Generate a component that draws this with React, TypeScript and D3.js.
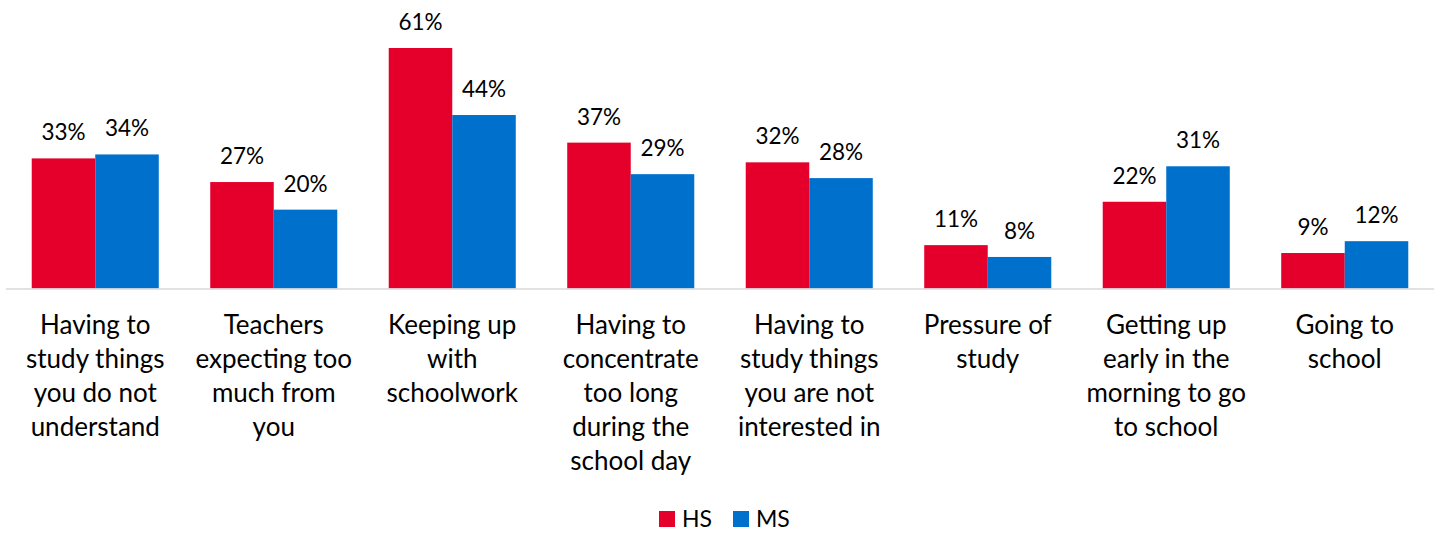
import React from "react";
import * as d3 from "d3";

const categories: string[][] = [
  ["Having to", "study things", "you do not", "understand"],
  ["Teachers", "expecting too", "much from", "you"],
  ["Keeping up", "with", "schoolwork"],
  ["Having to", "concentrate", "too long", "during the", "school day"],
  ["Having to", "study things", "you are not", "interested in"],
  ["Pressure of", "study"],
  ["Getting up", "early in the", "morning to go", "to school"],
  ["Going to", "school"],
];
const hsValues = [33, 27, 61, 37, 32, 11, 22, 9];
const msValues = [34, 20, 44, 29, 28, 8, 31, 12];
const seriesNames = ["HS", "MS"];
const seriesColors = ["#E4002B", "#0070CD"];

const W = 1440;
const H = 533;
const FONT = "Lato, 'Open Sans', sans-serif";

export default function App() {
  const keys = categories.map((c) => c.join(" "));
  const x0 = d3.scaleBand<string>().domain(keys).range([6, 1434]).paddingInner(0).paddingOuter(0);
  const x1 = d3
    .scaleBand<string>()
    .domain(seriesNames)
    .range([0, x0.bandwidth()])
    .paddingInner(0)
    .paddingOuter(0.405);
  const y = d3.scaleLinear().domain([0, 61]).range([288.5, 48]);
  const data = [hsValues, msValues];

  return (
    <svg width={W} height={H} style={{ display: "block", position: "absolute", left: 0, top: 0 }}>
      <rect x={0} y={0} width={W} height={H} fill="#fff" />
      {keys.map((k, i) => (
        <g key={k}>
          {seriesNames.map((s, j) => {
            const v = data[j][i];
            const bx = x0(k)! + x1(s)!;
            const bw = x1.bandwidth();
            return (
              <g key={s}>
                <rect x={bx} y={y(v)} width={bw} height={y(0) - y(v)} fill={seriesColors[j]} />
                <text
                  x={bx + bw / 2}
                  y={y(v) - 18}
                  textAnchor="middle"
                  fontFamily={FONT}
                  fontSize={22.5}
                  fill="#000"
                >
                  {v}%
                </text>
              </g>
            );
          })}
        </g>
      ))}
      <line x1={6} x2={1434} y1={289} y2={289} stroke="#D9D9D9" strokeWidth={1.5} />
      {keys.map((k, i) => (
        <text
          key={k}
          x={x0(k)! + x0.bandwidth() / 2}
          textAnchor="middle"
          fontFamily={FONT}
          fontSize={26}
          fill="#000"
        >
          {categories[i].map((line, li) => (
            <tspan key={li} x={x0(k)! + x0.bandwidth() / 2} y={334 + li * 34}>
              {line}
            </tspan>
          ))}
        </text>
      ))}
      <g>
        {seriesNames.map((s, j) => (
          <g key={s} transform={`translate(${659 + j * 74},0)`}>
            <rect x={0} y={511} width={16} height={16} fill={seriesColors[j]} />
            <text x={23} y={527} fontFamily={FONT} fontSize={23} fill="#000">
              {s}
            </text>
          </g>
        ))}
      </g>
    </svg>
  );
}
